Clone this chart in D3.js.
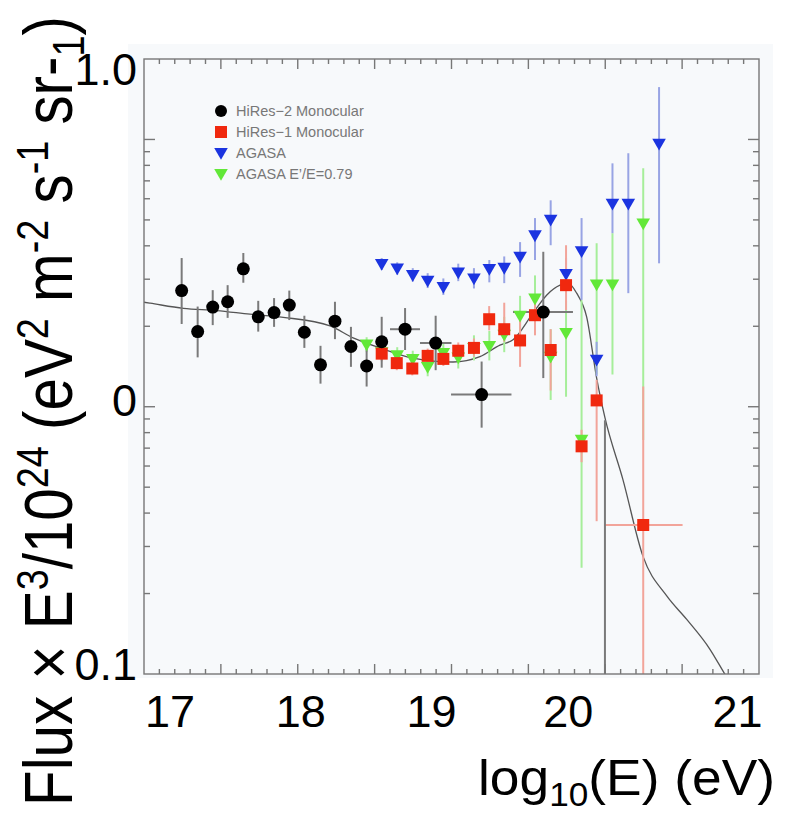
<!DOCTYPE html>
<html><head><meta charset="utf-8">
<script src="https://cdn.jsdelivr.net/npm/d3@7"></script>
<style>body{margin:0;background:#fff}svg{display:block}</style>
</head><body>
<svg id="chart" width="789" height="825"></svg>
<script>
// ---------------- DATA ----------------
// [log10(E), flux, fluxLow, fluxHigh, (logELow, logEHigh)]
const hires2 = [
  [17.245, 2.72, 2.04, 3.60],
  [17.349, 1.91, 1.53, 2.37],
  [17.447, 2.36, 2.02, 2.73],
  [17.544, 2.47, 2.15, 2.85],
  [17.646, 3.28, 2.91, 3.76],
  [17.743, 2.17, 1.91, 2.49],
  [17.846, 2.25, 1.99, 2.55],
  [17.945, 2.40, 2.11, 2.72],
  [18.043, 1.90, 1.66, 2.19],
  [18.148, 1.435, 1.22, 1.69],
  [18.242, 2.09, 1.79, 2.47],
  [18.346, 1.68, 1.41, 1.99],
  [18.448, 1.42, 1.19, 1.66],
  [18.546, 1.75, 1.40, 2.17],
  [18.698, 1.95, 1.63, 2.34, 18.60, 18.795],
  [18.897, 1.73, 1.37, 2.19, 18.795, 19.0],
  [19.196, 1.11, 0.835, 1.476, 18.997, 19.39],
  [19.597, 2.26, 1.28, 3.80, 19.40, 19.79],
  [19.998, 0.05, 0.05, 0.89]
];
const hires1 = [
  [18.546, 1.58, 1.48, 1.69],
  [18.644, 1.456, 1.37, 1.55],
  [18.745, 1.39, 1.31, 1.48],
  [18.845, 1.55, 1.46, 1.65],
  [18.947, 1.51, 1.42, 1.61],
  [19.044, 1.62, 1.52, 1.74],
  [19.146, 1.66, 1.54, 1.80],
  [19.245, 2.125, 1.93, 2.38],
  [19.343, 1.95, 1.75, 2.45],
  [19.446, 1.77, 1.41, 2.17],
  [19.543, 2.20, 1.85, 2.50],
  [19.645, 1.63, 1.15, 1.95],
  [19.745, 2.85, 2.30, 4.02],
  [19.846, 0.711, 0.62, 0.82],
  [19.944, 1.056, 0.373, 1.26],
  [20.247, 0.361, 0.05, 1.19, 19.998, 20.503]
];
const agasa = [
  [18.546, 3.42, 3.25, 3.60],
  [18.647, 3.29, 3.12, 3.47],
  [18.748, 3.11, 2.94, 3.30],
  [18.845, 2.96, 2.78, 3.16],
  [18.947, 2.81, 2.62, 3.02],
  [19.044, 3.18, 2.95, 3.43],
  [19.146, 3.02, 2.77, 3.30],
  [19.246, 3.28, 2.92, 3.54],
  [19.343, 3.31, 2.90, 3.65],
  [19.446, 3.64, 3.06, 4.13],
  [19.543, 4.38, 3.54, 5.08],
  [19.645, 5.01, 4.02, 5.92],
  [19.745, 3.14, 2.75, 3.60],
  [19.846, 3.82, 2.51, 5.08],
  [19.944, 1.50, 1.30, 1.75],
  [20.047, 5.75, 4.46, 8.14],
  [20.150, 5.75, 2.66, 8.88],
  [20.350, 9.64, 3.44, 15.7]
];
const agasaShift = [
  [18.448, 1.71, 1.60, 1.82],
  [18.546, 1.60, 1.50, 1.71],
  [18.647, 1.56, 1.46, 1.67],
  [18.748, 1.51, 1.40, 1.62],
  [18.845, 1.41, 1.30, 1.52],
  [18.947, 1.59, 1.46, 1.73],
  [19.044, 1.53, 1.39, 1.68],
  [19.146, 1.66, 1.49, 1.85],
  [19.246, 1.69, 1.49, 1.92],
  [19.343, 1.86, 1.60, 2.17],
  [19.446, 2.19, 1.85, 2.60],
  [19.543, 2.54, 2.05, 3.10],
  [19.645, 1.54, 1.06, 1.95],
  [19.745, 1.89, 1.09, 2.50],
  [19.846, 0.753, 0.25, 2.50],
  [19.944, 2.87, 1.32, 4.09],
  [20.047, 2.87, 1.32, 4.46],
  [20.247, 4.85, 0.75, 7.80]
];
// model curve [log10(E), flux]
const modelCurve = [
  [17.0, 2.46], [17.04, 2.44], [17.256, 2.335], [17.473, 2.29], [17.689, 2.22],
  [17.906, 2.16], [18.21, 2.005], [18.36, 1.81], [18.535, 1.66], [18.75, 1.52],
  [19.01, 1.47], [19.185, 1.54], [19.315, 1.70], [19.40, 1.78], [19.53, 2.24],
  [19.62, 2.62], [19.706, 2.85], [19.758, 2.90], [19.814, 2.66], [19.879, 2.17],
  [19.944, 1.28], [19.998, 0.91], [20.115, 0.534], [20.245, 0.276], [20.40, 0.196],
  [20.53, 0.16], [20.68, 0.124], [20.77, 0.1016], [20.85, 0.085]
];
const legendLabels = ["HiRes\u22122 Monocular", "HiRes\u22121 Monocular", "AGASA", "AGASA E\u2019/E=0.79"];
const xTickLabels = ["17", "18", "19", "20", "21"];
const xTickLabelPos = [17.17, 18.02, 18.87, 19.76, 20.86];
const yTickLabels = ["0.1", "0", "1.0"];
const yTickLabelPos = [0.109, 1.06, 18.4];

// ---------------- CHART ----------------
const svg = d3.select("#chart");
const L = 144, R = 759, T = 59, B = 674;
const x = d3.scaleLinear().domain([17, 21]).range([L, R]);
const y = d3.scaleLog().domain([0.1, 20]).range([B, T]);
const FONT = "'Liberation Sans', Arial, Helvetica, sans-serif";

// pasted-figure background tint
svg.append("rect").attr("x", 128).attr("y", 44).attr("width", 645).attr("height", 634).attr("fill", "#f7f9fb");

svg.append("defs").append("clipPath").attr("id", "clip")
  .append("rect").attr("x", L).attr("y", T).attr("width", R - L).attr("height", B - T);

const plot = svg.append("g").attr("clip-path", "url(#clip)");

// model curve
plot.append("path").datum(modelCurve)
  .attr("fill", "none").attr("stroke", "#555").attr("stroke-width", 1.3)
  .attr("d", d3.line().x(d => x(d[0])).y(d => y(d[1])).curve(d3.curveMonotoneX));

function errorBars(data, color, w) {
  const g = plot.append("g").attr("stroke", color).attr("stroke-width", w);
  g.selectAll("line.v").data(data).join("line").attr("class", "v")
    .attr("x1", d => x(d[0])).attr("x2", d => x(d[0]))
    .attr("y1", d => y(d[2])).attr("y2", d => y(d[3]));
  g.selectAll("line.h").data(data.filter(d => d.length > 4)).join("line").attr("class", "h")
    .attr("x1", d => x(d[4])).attr("x2", d => x(d[5]))
    .attr("y1", d => y(d[1])).attr("y2", d => y(d[1]));
}
errorBars(agasaShift, "#a6ee9a", 2);
errorBars(agasa, "#98a4e4", 2);
errorBars(hires1, "#f2a49a", 2);
errorBars(hires2, "#7a7a7a", 2);

const tri = d3.symbol().type(d3.symbolTriangle).size(80);
function triangles(data, color) {
  plot.append("g").selectAll("path").data(data).join("path")
    .attr("d", tri)
    .attr("transform", d => `translate(${x(d[0])},${y(d[1]) - 1}) rotate(180)`)
    .attr("fill", color);
}
triangles(agasa, "#1b34e0");
triangles(agasaShift, "#62e838");
plot.append("g").selectAll("rect").data(hires1).join("rect")
  .attr("x", d => x(d[0]) - 6).attr("y", d => y(d[1]) - 6)
  .attr("width", 12).attr("height", 12).attr("fill", "#f0280e");
plot.append("g").selectAll("circle").data(hires2).join("circle")
  .attr("cx", d => x(d[0])).attr("cy", d => y(d[1])).attr("r", 6.5).attr("fill", "#000");

// frame + inward ticks
const frame = svg.append("g").attr("stroke", "#777").attr("stroke-width", 1.4).attr("fill", "none");
frame.append("rect").attr("x", L).attr("y", T).attr("width", R - L).attr("height", B - T);
d3.range(1, 40).forEach(i => {
  const v = 17 + i / 10;
  const len = (i % 5 === 0) ? 10 : 5;
  const px = x(v);
  frame.append("line").attr("x1", px).attr("x2", px).attr("y1", B).attr("y2", B - len);
  frame.append("line").attr("x1", px).attr("x2", px).attr("y1", T).attr("y2", T + len);
});
const yTicks = [0.2, 0.3, 0.4, 0.5, 0.6, 0.7, 0.8, 0.9, 1, 2, 3, 4, 5, 6, 7, 8, 9, 10];
yTicks.forEach(v => {
  const major = (v === 1 || v === 10);
  const len = major ? 11 : 6;
  const py = y(v);
  frame.append("line").attr("x1", L).attr("x2", L + len).attr("y1", py).attr("y2", py);
  frame.append("line").attr("x1", R).attr("x2", R - len).attr("y1", py).attr("y2", py);
});

// legend
const leg = svg.append("g").attr("font-family", FONT).attr("font-size", 14.5).attr("fill", "#777");
const legY = [111, 132, 153, 174];
leg.append("circle").attr("cx", 221).attr("cy", legY[0]).attr("r", 6).attr("fill", "#000");
leg.append("rect").attr("x", 215).attr("y", legY[1] - 6).attr("width", 12).attr("height", 12).attr("fill", "#f0280e");
leg.append("path").attr("d", tri).attr("transform", `translate(221,${legY[2] - 1}) rotate(180)`).attr("fill", "#1b34e0");
leg.append("path").attr("d", tri).attr("transform", `translate(221,${legY[3] - 1}) rotate(180)`).attr("fill", "#62e838");
legendLabels.forEach((t, i) => {
  leg.append("text").attr("x", 236).attr("y", legY[i]).attr("dy", "0.36em").text(t);
});

// big tick labels
const tl = svg.append("g").attr("font-family", FONT).attr("font-size", 45).attr("fill", "#000");
xTickLabels.forEach((t, i) => {
  tl.append("text").attr("x", x(xTickLabelPos[i])).attr("y", 727).attr("text-anchor", "middle").text(t);
});
yTickLabels.forEach((t, i) => {
  tl.append("text").attr("x", 137).attr("y", y(yTickLabelPos[i])).attr("dy", "0.36em").attr("text-anchor", "end").text(t);
});

// x axis title
const xg = svg.append("g");
const xt = xg.append("text").attr("font-family", FONT).attr("font-size", 50).attr("fill", "#000")
  .attr("x", 0).attr("y", 0);
xt.append("tspan").text("log");
xt.append("tspan").attr("font-size", 33).attr("dy", 11).text("10");
xt.append("tspan").attr("dy", -11).text("(E) (eV)");
{
  const bb = xt.node().getBBox();
  const sx = 297 / bb.width;
  xg.attr("transform", `translate(${478 - bb.x * sx},795) scale(${sx},1)`);
}

// y axis title
const yg = svg.append("g");
const yt = yg.append("text").attr("font-family", FONT).attr("font-size", 68).attr("fill", "#000")
  .attr("x", 0).attr("y", 0);
const parts = [
  ["Flux \u00d7 E", 0], ["3", -1], ["/10", 0], ["24", -1], [" (eV", 0], ["2", -1], [" m", 0], ["-2", -1],
  [" s", 0], ["-1", -1], [" sr-", 0], ["1", 1], [")", 0]
];
let cur = 0;
parts.forEach(([t, s]) => {
  const target = s === -1 ? -24 : (s === 1 ? 12 : 0);
  yt.append("tspan").attr("font-size", s === 0 ? 68 : 44).attr("dy", target - cur).text(t);
  cur = target;
});
{
  const bb = yt.node().getBBox();
  const sx = 790 / bb.width;
  yg.attr("transform", `translate(72,${806 + bb.x * sx}) rotate(-90) scale(${sx},1)`);
}
</script>
</body></html>
